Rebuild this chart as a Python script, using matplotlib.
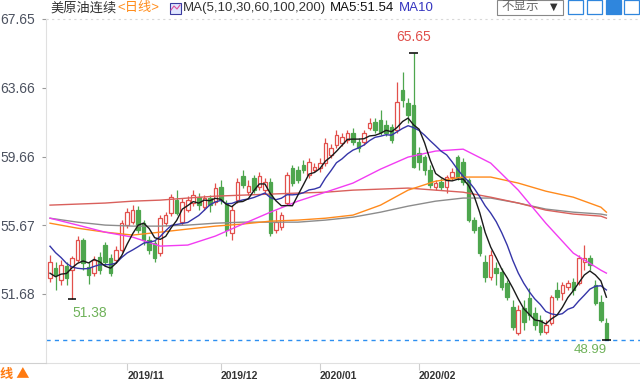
import numpy as np
import pandas as pd
import matplotlib.pyplot as plt
from matplotlib.patches import Rectangle

plt.rcParams['font.family'] = ['Liberation Sans', 'Noto Sans CJK SC', 'DejaVu Sans']

# daily candles, 2019/10 .. 2020/02
opens = [
    52.60, 53.18, 52.48, 53.30, 53.06, 53.64, 54.81, 53.24, 52.89, 53.82,
    54.52, 53.76, 53.64, 54.22, 55.68, 55.85, 56.55, 55.79, 54.81, 54.63,
    54.05, 55.79, 56.37, 57.13, 55.85, 56.55, 56.96, 57.30, 56.72, 57.25,
    57.01, 57.89, 56.96, 55.21, 57.13, 58.52, 57.59, 58.41, 57.89, 57.71,
    58.18, 55.39, 55.56, 56.96, 58.99, 58.87, 59.16, 58.58, 58.87, 58.99,
    59.28, 59.74, 60.33, 60.44, 60.62, 61.02, 60.50, 60.50, 61.31, 61.66,
    61.78, 61.49, 61.37, 61.20, 63.52, 62.77, 62.65, 59.86, 59.63, 58.87,
    57.89, 58.18, 57.89, 58.47, 59.63, 59.34, 58.29, 55.97, 55.56, 53.53,
    52.66, 53.18, 52.95, 52.31, 50.91, 49.40, 50.86, 51.44, 50.56, 50.16,
    49.46, 49.98, 51.90, 51.73, 52.08, 52.37, 52.31, 53.53, 53.76, 52.19,
    51.20, 49.98]
highs = [
    53.93, 53.53, 53.64, 53.53, 53.88, 55.04, 54.92, 53.53, 53.88, 54.11,
    54.69, 53.99, 54.46, 55.97, 56.67, 56.84, 56.78, 55.97, 55.04, 54.81,
    56.26, 56.43, 57.48, 57.71, 57.25, 57.36, 57.71, 57.54, 57.42, 57.42,
    58.12, 58.29, 57.13, 56.84, 58.41, 58.87, 58.29, 58.58, 58.76, 58.41,
    58.41, 56.55, 56.43, 58.76, 59.16, 59.11, 59.45, 59.57, 59.28, 59.57,
    60.73, 60.38, 61.20, 61.02, 61.20, 61.31, 60.73, 61.20, 61.89, 61.89,
    62.36, 61.78, 61.55, 63.99, 64.57, 63.06, 65.65, 60.21, 59.74, 59.16,
    58.29, 58.41, 58.58, 58.99, 59.74, 59.57, 58.41, 56.14, 55.68, 53.93,
    54.22, 53.53, 53.18, 52.48, 51.32, 51.03, 51.32, 52.02, 50.91, 50.45,
    50.16, 51.61, 52.37, 52.37, 52.48, 52.60, 53.93, 54.52, 53.93, 52.48,
    51.61, 50.27]
lows = [
    52.37, 51.90, 52.19, 52.19, 51.38, 53.53, 53.06, 52.25, 52.71, 52.83,
    53.30, 52.71, 53.47, 54.11, 55.50, 55.74, 55.21, 54.52, 53.99, 53.53,
    53.88, 55.62, 56.20, 56.26, 55.68, 56.43, 56.78, 56.55, 56.55, 56.43,
    56.84, 56.90, 55.04, 54.81, 56.96, 57.83, 57.42, 57.54, 57.71, 57.48,
    55.04, 55.21, 55.39, 56.84, 57.94, 58.12, 58.70, 58.41, 58.76, 58.76,
    59.11, 59.57, 60.15, 60.27, 60.44, 60.33, 59.92, 60.33, 61.20, 61.02,
    60.91, 60.85, 60.44, 61.02, 62.53, 61.60, 58.99, 58.87, 58.58, 57.83,
    57.71, 57.71, 57.54, 58.29, 58.29, 58.00, 55.85, 55.21, 53.88, 52.37,
    52.48, 52.19, 51.90, 51.32, 49.58, 49.29, 49.58, 50.16, 49.58, 49.29,
    49.34, 49.87, 51.32, 51.32, 51.90, 51.61, 52.19, 53.06, 53.06, 51.03,
    50.04, 48.99]
closes = [
    53.53, 52.77, 53.35, 52.60, 53.76, 54.81, 53.47, 52.77, 53.64, 53.06,
    53.53, 52.89, 54.22, 55.79, 56.43, 56.55, 55.39, 54.81, 54.22, 53.76,
    56.08, 56.26, 57.30, 56.37, 57.01, 57.13, 57.42, 56.84, 57.25, 56.84,
    57.83, 57.13, 55.39, 56.55, 58.18, 58.00, 57.94, 57.71, 58.52, 58.18,
    55.21, 55.85, 56.26, 58.58, 58.12, 58.29, 58.87, 59.34, 59.05, 59.28,
    60.44, 60.15, 60.91, 60.79, 61.02, 60.50, 60.15, 61.02, 61.60, 61.20,
    61.08, 61.02, 60.62, 62.82, 62.94, 62.07, 59.05, 59.34, 58.87, 58.00,
    58.12, 57.89, 58.47, 58.76, 58.47, 58.18, 55.97, 55.39, 54.05, 52.66,
    53.93, 52.89, 52.08, 51.49, 49.75, 50.74, 50.04, 50.45, 49.87, 49.46,
    49.87, 51.49, 51.49, 52.19, 52.31, 51.90, 53.76, 53.76, 53.35, 51.15,
    50.16, 49.05]
# closes of the last days before the visible window (for MA5 / MA10)
pre_closes = [56.5, 56.2, 56.0, 55.9, 55.5, 53.8, 52.6, 52.4, 52.1]

# long moving averages every 5 candles
ma_idx = list(range(0, 101, 5)) + [101]
ma30 = [56.08, 55.68, 55.27, 54.98, 54.46, 54.52, 55.04, 55.74, 56.43, 57.07, 57.59,
        58.12, 58.93, 59.63, 59.98, 60.09, 59.28, 57.71, 55.79, 54.05, 53.06, 52.89]
ma60 = [55.79, 55.50, 55.27, 55.10, 55.27, 55.45, 55.62, 55.74, 55.91, 55.97, 56.08,
        56.26, 56.84, 57.71, 58.23, 58.47, 58.47, 58.12, 57.65, 57.30, 56.72, 56.43]
ma100 = [56.84, 56.90, 56.96, 57.07, 57.13, 57.25, 57.36, 57.42, 57.48, 57.54, 57.59,
         57.71, 57.77, 57.83, 57.71, 57.59, 57.30, 56.96, 56.55, 56.32, 56.20, 56.08]
ma200 = [56.08, 55.85, 55.68, 55.62, 55.62, 55.68, 55.79, 55.85, 55.85, 55.85, 55.97,
         56.14, 56.43, 56.78, 57.07, 57.25, 57.25, 56.96, 56.61, 56.43, 56.32, 56.26]

month_idx = [14, 31, 49, 67]
month_labels = ["2019/11", "2019/12", "2020/01", "2020/02"]
ytick_vals = [67.65, 63.66, 59.66, 55.67, 51.68]

up_col = "#e2504c"
down_col = "#4ea64e"

W, H = 640, 380
fig = plt.figure(figsize=(6.4, 3.8), dpi=100)
ax = fig.add_axes([46 / W, (H - 363) / H, (W - 46) / W, (363 - 19) / H])

n = len(closes)
x = np.arange(n)

for i in range(n):
    o, h, l, c = opens[i], highs[i], lows[i], closes[i]
    up = c >= o
    col = up_col if up else down_col
    ax.vlines(i, l, h, color=col, lw=0.9, zorder=2)
    bottom = min(o, c)
    height = max(abs(c - o), 0.03)
    ax.add_patch(Rectangle((i - 0.32, bottom), 0.64, height,
                           facecolor="white" if up else col,
                           edgecolor=col, lw=0.9, zorder=3))

# moving averages
s = pd.Series(pre_closes + closes)
ma5 = s.rolling(5).mean().values[len(pre_closes):]
ma10 = s.rolling(10).mean().values[len(pre_closes):]
ax.plot(ma_idx, ma200, color="#8c8c8c", lw=1.0, zorder=4)
ax.plot(ma_idx, ma100, color="#d9605c", lw=1.0, zorder=4)
ax.plot(ma_idx, ma60, color="#ff8a1c", lw=1.0, zorder=4)
ax.plot(ma_idx, ma30, color="#f23cf2", lw=1.0, zorder=4)
ax.plot(x, ma10, color="#3535a8", lw=1.0, zorder=5)
ax.plot(x, ma5, color="#1a1a1a", lw=1.0, zorder=6)

# extreme markers
i_max = int(np.argmax(highs))
i_min = int(np.argmin(lows))
i_low1 = int(np.argmin(lows[:30]))
for idx, val in [(i_max, highs[i_max]), (i_min, lows[i_min]), (i_low1, lows[i_low1])]:
    ax.hlines(val, idx - 0.8, idx + 0.8, color="black", lw=1.1, zorder=7)

ax.annotate(f"{highs[i_max]:.2f}", (i_max, highs[i_max]), xytext=(0, 9),
            textcoords="offset pixels", ha="center", va="bottom",
            color="#e0504c", fontsize=10)
ax.annotate(f"{lows[i_low1]:.2f}", (i_low1, lows[i_low1]), xytext=(18, -7),
            textcoords="offset pixels", ha="center", va="top",
            color="#6fb25a", fontsize=10)
ax.annotate(f"{lows[i_min]:.2f}", (i_min, lows[i_min]), xytext=(-16, -4),
            textcoords="offset pixels", ha="center", va="top",
            color="#6fb25a", fontsize=9.5)

ax.axhline(lows[i_min], color="#2d8ff0", lw=1, ls=(0, (3, 3)), zorder=1)
ax.axhline(ytick_vals[0], color="#d8d8d8", lw=0.8, ls=(0, (2, 3)), zorder=1, clip_on=False)

ax.set_xlim(-0.73, 107.1)
ax.set_ylim(47.67, 67.65)

ax.set_yticks(ytick_vals)
ax.set_yticklabels([f"{v:.2f}" for v in ytick_vals])
ax.tick_params(axis="y", length=3, width=0.8, color="#9a9a9a", pad=5,
               labelsize=10, labelcolor="#4c5260")
ax.set_xticks(month_idx)
ax.set_xticklabels(month_labels, fontweight="bold")
ax.tick_params(axis="x", length=5, width=0.8, color="#cfcfcf", pad=1,
               labelsize=7.5, labelcolor="#333333")
for lab in ax.get_xticklabels():
    lab.set_ha("left")

for side in ["top", "right"]:
    ax.spines[side].set_visible(False)
ax.spines["left"].set_color("#e0e0e0")
ax.spines["bottom"].set_color("#e0e0e0")


def fx(px):
    return px / W


def fy(py):
    return 1 - py / H


# header
fig.text(fx(50), fy(8), "美原油连续", fontsize=9.5, color="#333333", va="center")
fig.text(fx(117), fy(8), "<日线>", fontsize=9.5, color="#ff8c1a", va="center")
fig.patches.append(Rectangle((fx(170), fy(14)), 11 / W, 11 / H, transform=fig.transFigure,
                             facecolor="#dfe6ff", edgecolor="#3a3aa0", lw=0.8))
fig.lines.append(plt.Line2D([fx(171), fx(174), fx(177), fx(180)], [fy(10), fy(6), fy(9), fy(5)],
                            transform=fig.transFigure, color="#e0509c", lw=0.8))
fig.text(fx(183), fy(8), "MA(5,10,30,60,100,200)", fontsize=9.5, color="#333333", va="center")
fig.text(fx(330), fy(8), "MA5:51.54", fontsize=9.5, color="#111111", va="center")
fig.text(fx(399), fy(8), "MA10", fontsize=9.5, color="#3535c0", va="center")

# top-right controls
fig.patches.append(Rectangle((fx(497), fy(15)), 66 / W, 15 / H, transform=fig.transFigure,
                             facecolor="white", edgecolor="#888888", lw=0.8))
fig.text(fx(501), fy(7), "不显示", fontsize=9, color="#666666", va="center")
fig.text(fx(550), fy(7), "▼", fontsize=7, color="#333333", va="center",
         family="DejaVu Sans")
for k, left in enumerate([568, 587, 606, 624]):
    filled = k == 2
    fig.patches.append(Rectangle((fx(left), fy(14)), 15 / W, 14 / H,
                                 transform=fig.transFigure,
                                 facecolor="#2f86dd" if filled else "white",
                                 edgecolor="#2f86dd", lw=0.9))

# bottom-left box
fig.lines.append(plt.Line2D([0, fx(46)], [fy(363), fy(363)], transform=fig.transFigure,
                            color="#d0d0d0", lw=0.8))
fig.text(fx(0), fy(374), "线 ▲", fontsize=9.5, color="#ff7a10", va="center",
         fontweight="bold", family=["Noto Sans CJK SC", "DejaVu Sans"])

fig.savefig("out.png", dpi=100)
